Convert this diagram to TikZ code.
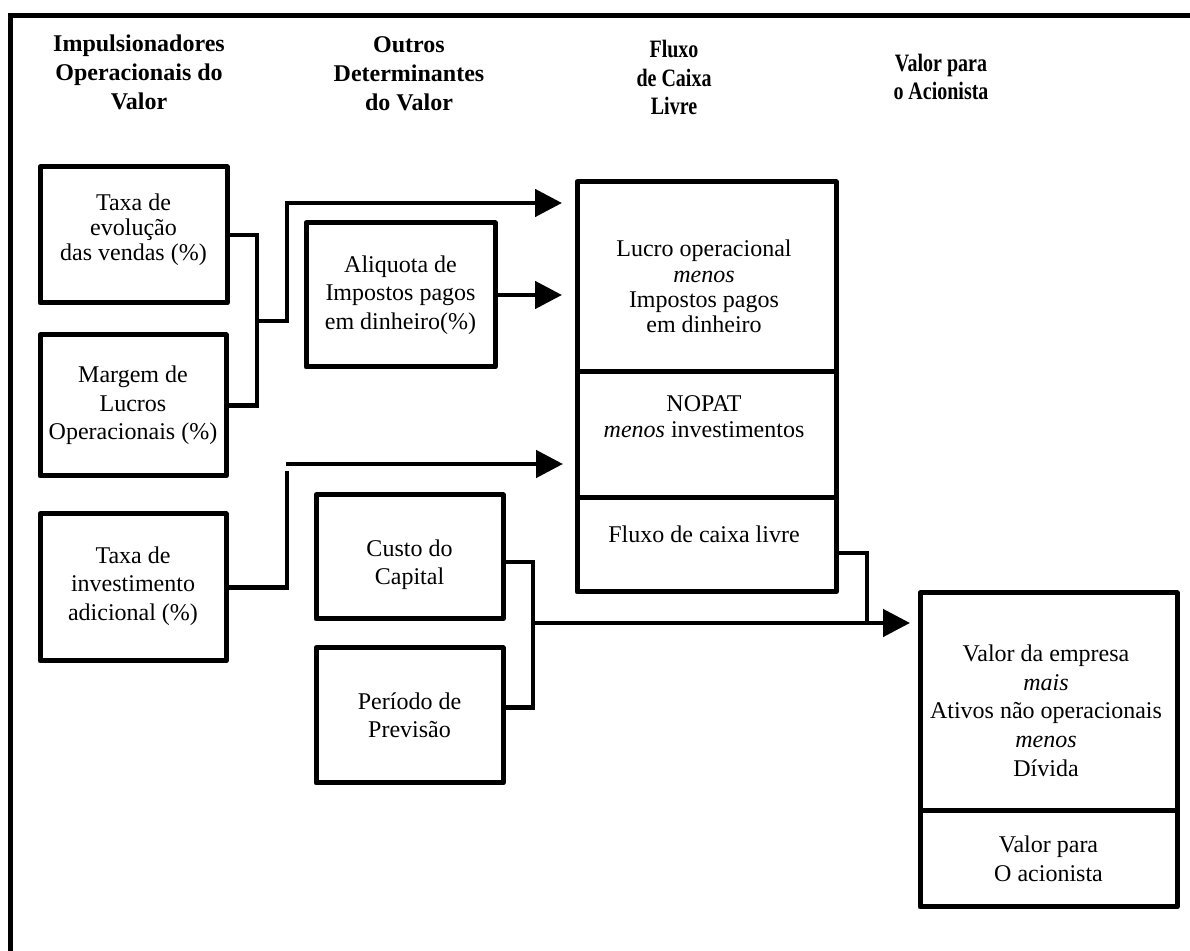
\documentclass[tikz,border=0pt]{standalone}
\usepackage{fontspec}
\setmainfont{Liberation Serif}
\newfontfamily\narrowserif{Liberation Serif}[FakeStretch=0.8]
\usetikzlibrary{positioning,arrows.meta}

\begin{document}
\begin{tikzpicture}
        [x=0.5pt,y=-0.5pt,
         box/.style={draw,rectangle,line width=2.5pt,line join=round,outer sep=0pt,inner sep=0pt,
                     align=center,font=\fontsize{12}{14.25}\selectfont},
         txt/.style={align=center,inner sep=0pt,anchor=base},
         head/.style={align=center,inner sep=0pt,anchor=base,font=\bfseries\fontsize{12}{14.5}\selectfont},
         narrowhead/.style={head,font=\narrowserif\bfseries\fontsize{12.5}{14.25}\selectfont},
         link/.style={line width=2.4pt},
         arr/.style={link,-{Triangle[length=13.5pt,width=13.5pt]}}]
        \useasboundingbox (0,0) rectangle (1190,951);
        % frame
        \draw[line width=2.5pt] (10.5,951) -- (10.5,15.5) -- (1190,15.5);
        % column headings
        \node[head](h1) at (139,110) {Impulsionadores\\Operacionais do\\Valor};
        \node[head](h2) at (409,111) {Outros\\Determinantes\\do Valor};
        \node[narrowhead](h3) at (674,115) {Fluxo\\de Caixa\\Livre};
        \node[narrowhead](h4) at (941,100) {Valor para\\o Acionista};
        % value drivers
        \node[box,minimum width=93.5pt,minimum height=68pt,font=\fontsize{12}{12.5}\selectfont]
             (evol) at (133.5,235) {Taxa de\\evolução\\das vendas (\%)\\[-5pt]\mbox{}};
        \node[box,minimum width=93pt,minimum height=70.5pt](margem) at (133,405.5) {Margem de\\Lucros\\Operacionais (\%)};
        \node[box,minimum width=93pt,minimum height=73.5pt](invest) at (133,587.5)
             {Taxa de\\investimento\\adicional (\%)\\[-10pt]\mbox{}};
        \node[box,minimum width=94.5pt,minimum height=72pt](aliq) at (400.5,295) {Aliquota de\\Impostos pagos\\em dinheiro(\%)};
        \node[box,minimum width=93.5pt,minimum height=62pt](custo) at (409.5,557) {\rule{0pt}{16pt}Custo do\\Capital};
        \node[box,minimum width=93.5pt,minimum height=67.5pt](prev) at (409.5,715.5) {Período de\\Previsão};
        % free cash flow
        \node[box,minimum width=129.5pt,minimum height=95pt](lucro) at (706.5,277) {};
        \node[box,minimum width=129.5pt,minimum height=63pt](nopat)[below=0pt of lucro] {};
        \node[box,minimum width=129.5pt,minimum height=47pt](fcl)[below=0pt of nopat] {};
        \node[txt,font=\fontsize{12}{12.7}\selectfont](lucrotxt) at (704,333)
             {Lucro operacional\\\textit{menos}\\Impostos pagos\\em dinheiro};
        \node[txt,font=\fontsize{12}{13}\selectfont](nopattxt) at (704,438) {NOPAT\\\textit{menos} investimentos};
        \node[txt,font=\fontsize{12}{13}\selectfont](fcltxt) at (704,543) {Fluxo de caixa livre};
        % shareholder value
        \node[box,minimum width=128.5pt,minimum height=109pt](valor) at (1048.5,702) {};
        \node[box,minimum width=128.5pt,minimum height=48pt](acion)[below=0pt of valor] {Valor para\\O acionista};
        \node[txt,font=\fontsize{12}{14.5}\selectfont](valortxt) at (1046,777)
             {Valor da empresa\\\textit{mais}\\Ativos não operacionais\\\textit{menos}\\Dívida};
        % connectors
        \coordinate (j1) at (257,321);
        \coordinate (k1) at (287,203);
        \coordinate (k2) at (287,471);
        \coordinate (k3) at (286,464);
        \coordinate (j2) at (533,623);
        \coordinate (j3) at (867,623);
        \draw[link] (evol.east) -| (j1) |- (margem.east);
        \draw[arr,shorten >=7.5pt] (j1) -| (k1) -- (k1 -| lucro.west);
        \draw[arr,shorten >=7.5pt] (aliq.east) -- (aliq.east -| lucro.west);
        \draw[link] (invest.east) -| (k2);
        \draw[arr,shorten >=7pt] (k3) -- (k3 -| nopat.west);
        \draw[link] ([yshift=-2.5pt]custo.east) -| (j2) |- ([yshift=4pt]prev.east);
        \draw[link] ([yshift=-4pt]fcl.east) -| (j3);
        \draw[arr,shorten >=5pt] (j2) -- (j2 -| valor.west);
\end{tikzpicture}
\end{document}
